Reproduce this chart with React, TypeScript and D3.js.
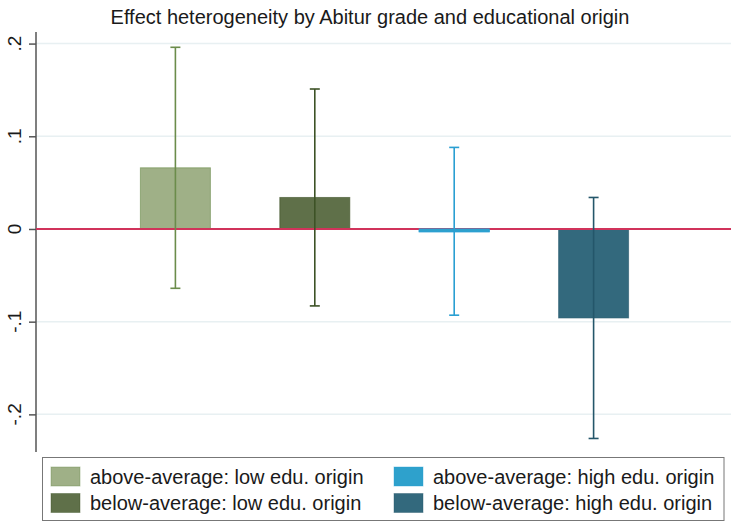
import { useEffect, useRef } from 'react';
import * as d3 from 'd3';

// values
const groups = [
  'above-average: low edu. origin',
  'below-average: low edu. origin',
  'above-average: high edu. origin',
  'below-average: high edu. origin',
];
const estimates = [0.066, 0.034, -0.003, -0.096];
const ciLower = [-0.064, -0.083, -0.093, -0.226];
const ciUpper = [0.196, 0.151, 0.088, 0.034];
const yTicks = [-0.2, -0.1, 0, 0.1, 0.2];
const yTickLabels = ['-.2', '-.1', '0', '.1', '.2'];
const fills = ['#9fb087', '#5f7049', '#2ea1cc', '#33697d'];
const errColors = ['#6b8c4b', '#3d5226', '#2a9fd2', '#24566a'];
const title = 'Effect heterogeneity by Abitur grade and educational origin';

const W = 731;
const H = 523;

const App = () => {
  const ref = useRef<SVGSVGElement | null>(null);

  useEffect(() => {
    const svg = d3.select(ref.current);
    svg.selectAll('*').remove();
    const font = '"Liberation Sans", Arial, sans-serif';

    const plot = { left: 36, right: 731, top: 32, bottom: 452 };

    const x = d3.scalePoint<string>()
      .domain(groups)
      .range([plot.left, 733])
      .padding(1);
    const y = d3.scaleLinear()
      .domain([-0.2406, 0.2125])
      .range([plot.bottom, plot.top]);
    const barW = 70;

    const data = groups.map((g, i) => ({
      g, est: estimates[i], lo: ciLower[i], hi: ciUpper[i], fill: fills[i], err: errColors[i],
    }));

    svg.append('rect').attr('width', W).attr('height', H).attr('fill', '#ffffff');

    // title
    svg.append('text').text(title)
      .attr('x', 370).attr('y', 24)
      .attr('text-anchor', 'middle')
      .attr('font-family', font).attr('font-size', 20)
      .attr('fill', '#1a1a1a');

    // grid
    svg.append('g').selectAll('line').data(yTicks.filter(t => t !== 0)).enter().append('line')
      .attr('x1', plot.left).attr('x2', plot.right)
      .attr('y1', d => y(d)).attr('y2', d => y(d))
      .attr('stroke', '#e8f0f2').attr('stroke-width', 1.5);

    // y axis
    const yAxisG = svg.append('g')
      .attr('transform', `translate(${plot.left},0)`)
      .call(d3.axisLeft(y).tickValues(yTicks).tickSize(7).tickFormat((_d, i) => yTickLabels[i]));
    yAxisG.select('.domain').remove();
    yAxisG.selectAll('.tick line').attr('stroke', '#555555').attr('stroke-width', 1.5);
    yAxisG.selectAll('.tick text').remove();
    yAxisG.append('line')
      .attr('y1', plot.top).attr('y2', plot.bottom)
      .attr('stroke', '#555555').attr('stroke-width', 1.5);
    svg.append('g').selectAll('text').data(yTicks).enter().append('text')
      .text((_d, i) => yTickLabels[i])
      .attr('transform', d => `translate(21,${y(d)}) rotate(-90)`)
      .attr('text-anchor', 'middle')
      .attr('font-family', font).attr('font-size', 19)
      .attr('fill', '#1a1a1a');

    // bars
    svg.append('g').selectAll('rect').data(data).enter().append('rect')
      .attr('x', d => (x(d.g) as number) - barW / 2)
      .attr('width', barW)
      .attr('y', d => Math.min(y(d.est), y(0)))
      .attr('height', d => Math.abs(y(d.est) - y(0)))
      .attr('fill', d => d.fill)
      .attr('stroke', d => d.err)
      .attr('stroke-opacity', 0.6)
      .attr('stroke-width', 1);

    // reference line at zero
    svg.append('line')
      .attr('x1', plot.left).attr('x2', plot.right)
      .attr('y1', y(0)).attr('y2', y(0))
      .attr('stroke', '#d1335b').attr('stroke-width', 2);

    // thin bar for the near-zero estimate stays visible over the line
    svg.append('g').selectAll('rect').data(data.filter(d => Math.abs(y(d.est) - y(0)) < 4)).enter().append('rect')
      .attr('x', d => (x(d.g) as number) - barW / 2)
      .attr('width', barW)
      .attr('y', d => Math.min(y(d.est), y(0)))
      .attr('height', d => Math.abs(y(d.est) - y(0)))
      .attr('fill', d => d.fill)
      .attr('stroke', d => d.err)
      .attr('stroke-width', 1);

    // error bars
    const eg = svg.append('g').selectAll('g').data(data).enter().append('g')
      .attr('stroke', d => d.err).attr('stroke-width', 1.6);
    eg.append('line')
      .attr('x1', d => x(d.g) as number).attr('x2', d => x(d.g) as number)
      .attr('y1', d => y(d.hi)).attr('y2', d => y(d.lo));
    eg.append('line')
      .attr('x1', d => (x(d.g) as number) - 5).attr('x2', d => (x(d.g) as number) + 5)
      .attr('y1', d => y(d.hi)).attr('y2', d => y(d.hi));
    eg.append('line')
      .attr('x1', d => (x(d.g) as number) - 5).attr('x2', d => (x(d.g) as number) + 5)
      .attr('y1', d => y(d.lo)).attr('y2', d => y(d.lo));

    // legend
    const lg = svg.append('g');
    lg.append('rect')
      .attr('x', 42.5).attr('y', 457.5).attr('width', 681.5).attr('height', 63)
      .attr('fill', '#ffffff').attr('stroke', '#777777').attr('stroke-width', 1);
    const cols = [51, 394];
    const rows = [467, 493.5];
    const items = lg.selectAll('g').data(data).enter().append('g')
      .attr('transform', (_d, i) => `translate(${cols[Math.floor(i / 2)]},${rows[i % 2]})`);
    items.append('rect')
      .attr('width', 29).attr('height', 19)
      .attr('fill', d => d.fill)
      .attr('stroke', d => d.err).attr('stroke-opacity', 0.4).attr('stroke-width', 1);
    items.append('text').text(d => d.g)
      .attr('x', 39).attr('y', 16.5)
      .attr('font-family', font).attr('font-size', 20)
      .attr('fill', '#1a1a1a');
  }, []);

  return (
    <div style={{ position: 'absolute', left: 0, top: 0 }}>
      <svg ref={ref} width={W} height={H} style={{ display: 'block' }} />
    </div>
  );
};

export default App;
